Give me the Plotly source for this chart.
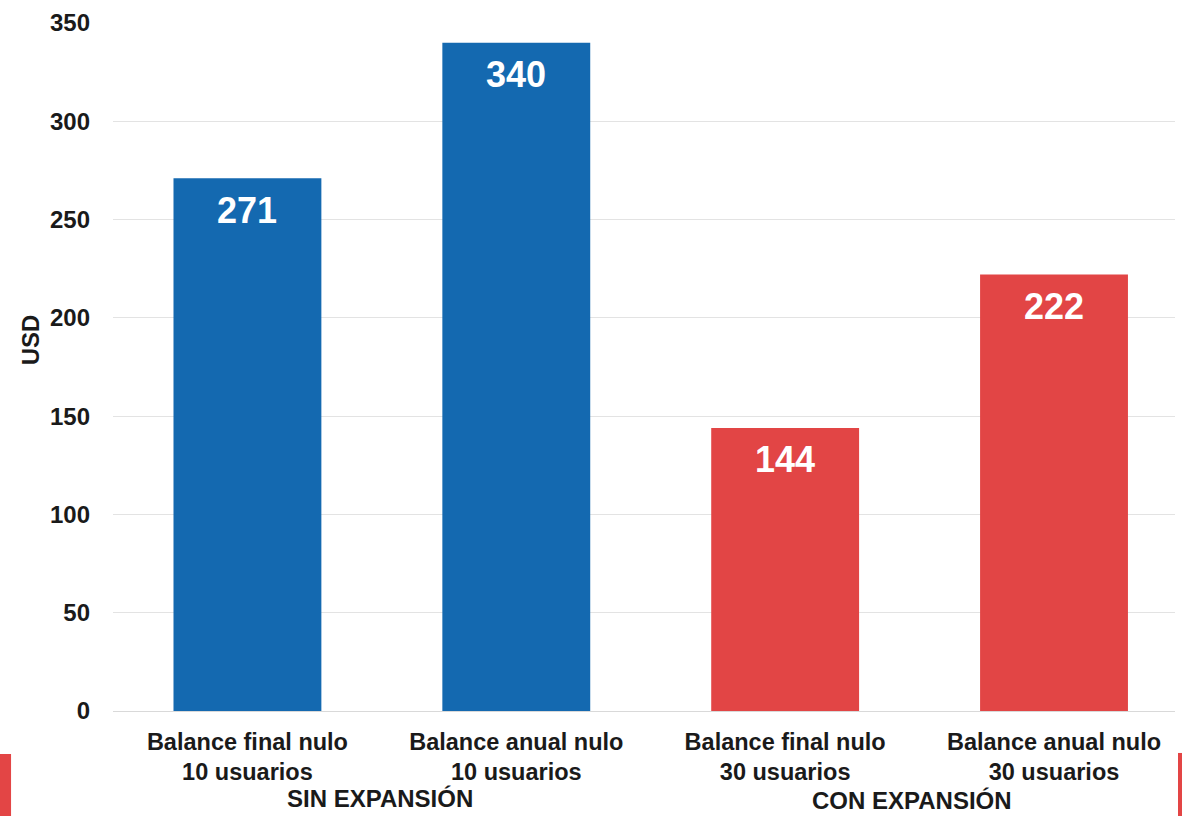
import plotly.graph_objects as go

categories = ["Balance final nulo<br>10 usuarios", "Balance anual nulo<br>10 usuarios",
              "Balance final nulo<br>30 usuarios", "Balance anual nulo<br>30 usuarios"]
values = [271, 340, 144, 222]
bar_colors = ["#1469b0", "#1469b0", "#e24545", "#e24545"]
groups = ["SIN EXPANSIÓN", "CON EXPANSIÓN"]
y_ticks = [0, 50, 100, 150, 200, 250, 300, 350]

FONT = "Liberation Sans, Arial, sans-serif"
TXT = "#1a1a1a"

x_idx = list(range(len(categories)))

fig = go.Figure()
fig.add_trace(go.Bar(
    x=x_idx, y=values, width=0.55,
    marker=dict(color=bar_colors, line=dict(width=0)),
    hoverinfo="skip",
))

annotations = []
for i, v in zip(x_idx, values):
    annotations.append(dict(
        x=i, y=v, xref="x", yref="y", text=str(v), showarrow=False,
        yanchor="middle", yshift=-32,
        font=dict(family=FONT, size=36, color="white", weight="bold"),
    ))

# group labels
annotations.append(dict(x=0.5, y=0, xref="x", yref="paper", text=groups[0], showarrow=False,
                        yanchor="middle", yshift=-87, xshift=-2,
                        font=dict(family=FONT, size=24, color=TXT, weight="bold")))
annotations.append(dict(x=2.5, y=0, xref="x", yref="paper", text=groups[1], showarrow=False,
                        yanchor="middle", yshift=-89, xshift=-8,
                        font=dict(family=FONT, size=24, color=TXT, weight="bold")))
# y title
annotations.append(dict(x=-0.078, y=0.539, xref="paper", yref="paper", text="USD", showarrow=False,
                        textangle=-90, xanchor="center", yanchor="middle",
                        font=dict(family=FONT, size=24, color=TXT, weight="bold")))

shapes = [
    dict(type="rect", xref="paper", yref="paper", x0=-0.1064, x1=-0.0960, y0=-0.1526, y1=-0.0625,
         fillcolor="#e34545", line=dict(width=0), layer="above"),
    dict(type="rect", xref="paper", yref="paper", x0=1.0028, x1=1.0066, y0=-0.1526, y1=-0.0610,
         fillcolor="#e34545", line=dict(width=0), layer="above"),
]

fig.update_layout(
    width=1182, height=816,
    margin=dict(l=113, r=7, t=23, b=105),
    paper_bgcolor="white", plot_bgcolor="white",
    showlegend=False,
    font=dict(family=FONT, size=22, color=TXT, weight="bold"),
    annotations=annotations,
    shapes=shapes,
    bargap=0.45,
)
fig.update_xaxes(
    range=[-0.5, 3.45], tickvals=x_idx, ticktext=categories,
    showgrid=False, showline=False, zeroline=False, ticks="",
    ticklabelstandoff=14,
    tickfont=dict(family=FONT, size=23.5, color=TXT, weight="bold"),
)
fig.update_yaxes(
    range=[0, 350], tickvals=y_ticks, showgrid=True, gridcolor="#e3e3e3", gridwidth=1,
    zeroline=True, zerolinecolor="#d9d9d9", zerolinewidth=1, showline=False, ticks="",
    ticklabelstandoff=22,
    tickfont=dict(family=FONT, size=24, color=TXT, weight="bold"),
)

fig.write_html("out.html")
